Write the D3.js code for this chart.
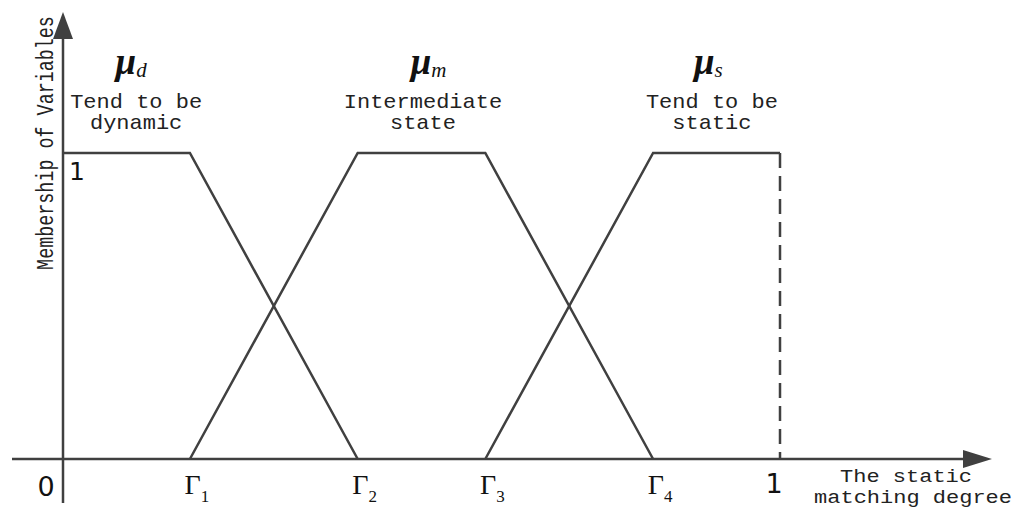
<!DOCTYPE html>
<html>
<head>
<meta charset="utf-8">
<script src="https://cdn.jsdelivr.net/npm/d3@7"></script>
<style>
    body { margin: 0; background: #fff; }
    svg { display: block; }
</style>
</head>
<body>
<svg></svg>
<script>
const frameWidth = 1024;
const frameHeight = 521;

// Breakpoints on the static matching degree axis
const gammaNames = ["1", "2", "3", "4"];
const gammaValues = [0.177, 0.411, 0.589, 0.823];

// Membership functions as [x, membership] points
const muDynamic = [[0, 1], [0.177, 1], [0.411, 0]];
const muMiddle = [[0.177, 0], [0.411, 1], [0.589, 1], [0.823, 0]];
const muStatic = [[0.589, 0], [0.823, 1], [1, 1]];
const muStaticDrop = [[1, 1], [1, 0]];

// Labels above each curve
const muSubscripts = ["d", "m", "s"];
const muCenters = [0.095, 0.51, 0.9];
const descLines = [["Tend to be", "dynamic"], ["Intermediate", "state"], ["Tend to be", "static"]];
const descCenters = [0.102, 0.502, 0.905];

const lineColor = "#404040";
const charWidth = 13.2; // monospace advance used in the reference

const svg = d3.select("svg")
    .attr("width", frameWidth)
    .attr("height", frameHeight);

const x = d3.scaleLinear().domain([0, 1]).range([63, 780]);
const y = d3.scaleLinear().domain([0, 1]).range([459, 153]);

const line = d3.line()
    .x(d => x(d[0]))
    .y(d => y(d[1]));

// Axes (plain lines with arrowheads)
svg.append("line")
    .attr("x1", 12).attr("x2", 966)
    .attr("y1", y(0)).attr("y2", y(0))
    .attr("stroke", lineColor).attr("stroke-width", 2.5);
svg.append("path")
    .attr("d", `M992,${y(0)} L963,${y(0) - 9} L963,${y(0) + 9} Z`)
    .attr("fill", lineColor);

svg.append("line")
    .attr("x1", x(0)).attr("x2", x(0))
    .attr("y1", 503).attr("y2", 34)
    .attr("stroke", lineColor).attr("stroke-width", 2.5);
svg.append("path")
    .attr("d", `M${x(0)},12 L${x(0) - 10},39 L${x(0) + 10},39 Z`)
    .attr("fill", lineColor);

// Membership curves
[muDynamic, muMiddle, muStatic].forEach(function (pts) {
    svg.append("path")
        .attr("d", line(pts))
        .attr("fill", "none")
        .attr("stroke", lineColor)
        .attr("stroke-width", 2.5)
        .attr("stroke-linejoin", "miter");
});
svg.append("path")
    .attr("d", line(muStaticDrop))
    .attr("fill", "none")
    .attr("stroke", lineColor)
    .attr("stroke-width", 2.5)
    .attr("stroke-dasharray", "15,8");

// Tick labels: 0, 1 and the Gammas
const sans = "'DejaVu Sans', sans-serif";
const serif = "'Liberation Serif', 'Times New Roman', serif";
const mono = "'Liberation Mono', monospace";

svg.append("text")
    .attr("x", 46).attr("y", 496)
    .attr("text-anchor", "middle")
    .attr("font-family", sans).attr("font-size", 27)
    .attr("fill", "#111")
    .text("0");
svg.append("text")
    .attr("x", x(1) - 6).attr("y", 493)
    .attr("text-anchor", "middle")
    .attr("font-family", sans).attr("font-size", 27)
    .attr("fill", "#111")
    .text("1");
svg.append("text")
    .attr("x", 77).attr("y", 180)
    .attr("text-anchor", "middle")
    .attr("font-family", sans).attr("font-size", 25)
    .attr("fill", "#111")
    .text("1");

gammaValues.forEach(function (g, i) {
    const t = svg.append("text")
        .attr("x", x(g) + 7).attr("y", 494)
        .attr("text-anchor", "middle")
        .attr("font-family", serif)
        .attr("fill", "#111");
    t.append("tspan").attr("font-size", 28).text("Γ");
    t.append("tspan").attr("font-size", 17).attr("dy", 8).text(gammaNames[i]);
});

// Monospace text squeezed (by a transform) to a given width
function monoText(cx, baseline, str, size, width, angle) {
    const t = svg.append("text")
        .attr("text-anchor", "middle")
        .attr("font-family", mono).attr("font-size", size)
        .attr("fill", "#222")
        .text(str);
    const natural = t.node().getComputedTextLength();
    const sx = width / natural;
    t.attr("transform", `translate(${cx},${baseline}) rotate(${angle}) scale(${sx},1)`);
}

// Axis titles
monoText(906, 482, "The static", 19, 10 * charWidth, 0);
monoText(913, 503, "matching degree", 19, 15 * charWidth, 0);
monoText(53, 143, "Membership of Variables", 23, 254, -90);

// Curve names
muSubscripts.forEach(function (s, i) {
    const t = svg.append("text")
        .attr("x", x(muCenters[i])).attr("y", 74)
        .attr("text-anchor", "middle")
        .attr("font-family", serif)
        .attr("fill", "#111");
    t.append("tspan").attr("font-size", 37).attr("font-weight", "bold").attr("font-style", "italic").text("μ");
    t.append("tspan").attr("font-size", 21).attr("font-style", "italic").attr("dy", 3).text(s);
});

descLines.forEach(function (lines, i) {
    lines.forEach(function (l, j) {
        monoText(x(descCenters[i]), 108 + j * 21, l, 20, l.length * charWidth, 0);
    });
});
</script>
</body>
</html>
